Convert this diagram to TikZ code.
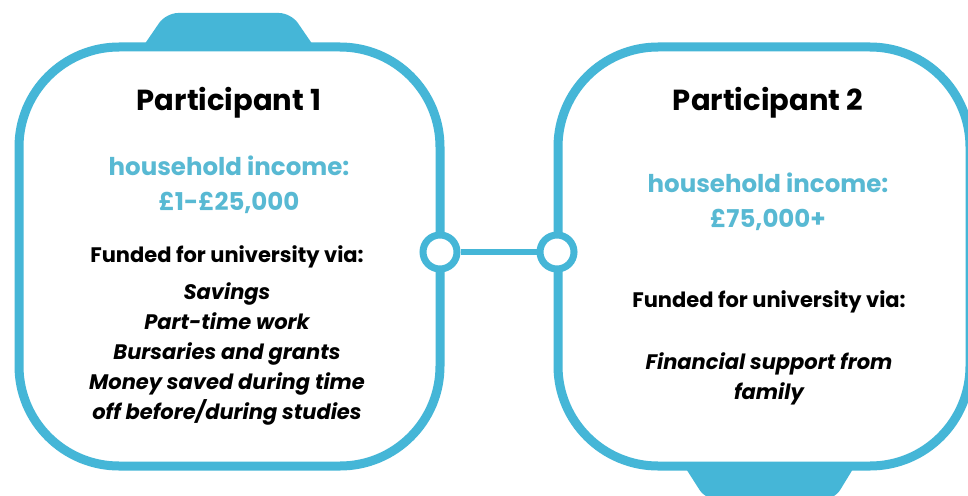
\documentclass[tikz,border=0pt]{standalone}
\usepackage{fontspec}
\setmainfont{Poppins}
\usetikzlibrary{positioning}

\definecolor{cardblue}{HTML}{45B6D7}
\definecolor{incomeblue}{HTML}{58B9D3}

\tikzset{
  card/.style={draw=cardblue, line width=9pt, rounded corners=100pt, inner sep=0pt},
  joint/.style={circle, draw=cardblue, fill=white, line width=7pt, minimum size=34pt, inner sep=0pt},
  title/.style={anchor=base, inner sep=0pt, font=\fontsize{29}{33}\selectfont\bfseries},
  income/.style={anchor=north, inner sep=0pt, align=center, text=incomeblue,
    font=\fontsize{24.5}{35}\selectfont\bfseries},
  funding/.style={inner sep=0pt, align=center, font=\fontsize{21}{30}\selectfont\bfseries}
}

\begin{document}
\begin{tikzpicture}[x=1pt, y=-1pt]
  \clip (0,0) rectangle (968,495);
  \fill[white] (0,0) rectangle (968,495);

  % tabs sticking out of the two cards
  \fill[cardblue] (142,48) [rounded corners=12pt] -- (166,13) -- (291,13) [sharp corners] -- (315,48) -- cycle;
  \fill[cardblue] (683,464) [rounded corners=12pt] -- (706,500) -- (834,500) [sharp corners] -- (856,464) -- cycle;

  % the two cards
  \node[card, minimum width=421pt, minimum height=419pt] (card1) at (229.5,256.5) {};
  \node[card, minimum width=412pt, minimum height=419pt] (card2) at (764,256.5) {};

  % link between the cards
  \node[joint] (j1) at (440,252) {};
  \node[joint] (j2) at (557,252) {};
  \draw[cardblue, line width=6pt] (j1) -- (j2);

  % first card
  \node[title] (p1) at (229,110) {Participant 1};
  \node[income] (inc1) at (229,156) {household income:\\£1-£25,000};
  \node[funding, anchor=north] (fund1) at (227,245)
    {Funded for university via:\\[7pt]
     \itshape Savings\\
     \itshape Part-time work\\
     \itshape Bursaries and grants\\
     \itshape Money saved during time\\
     \itshape off before/during studies};

  % second card
  \node[title] (p2) at (768,110) {Participant 2};
  \node[income] (inc2) at (768,173) {household income:\\£75,000+};
  \node[funding, anchor=base] (fund2) at (769,307) {Funded for university via:};
  \node[funding, anchor=north, font=\fontsize{21}{30}\selectfont\bfseries\itshape] (fam2) at (769,352)
    {Financial support from\\family};
\end{tikzpicture}
\end{document}
